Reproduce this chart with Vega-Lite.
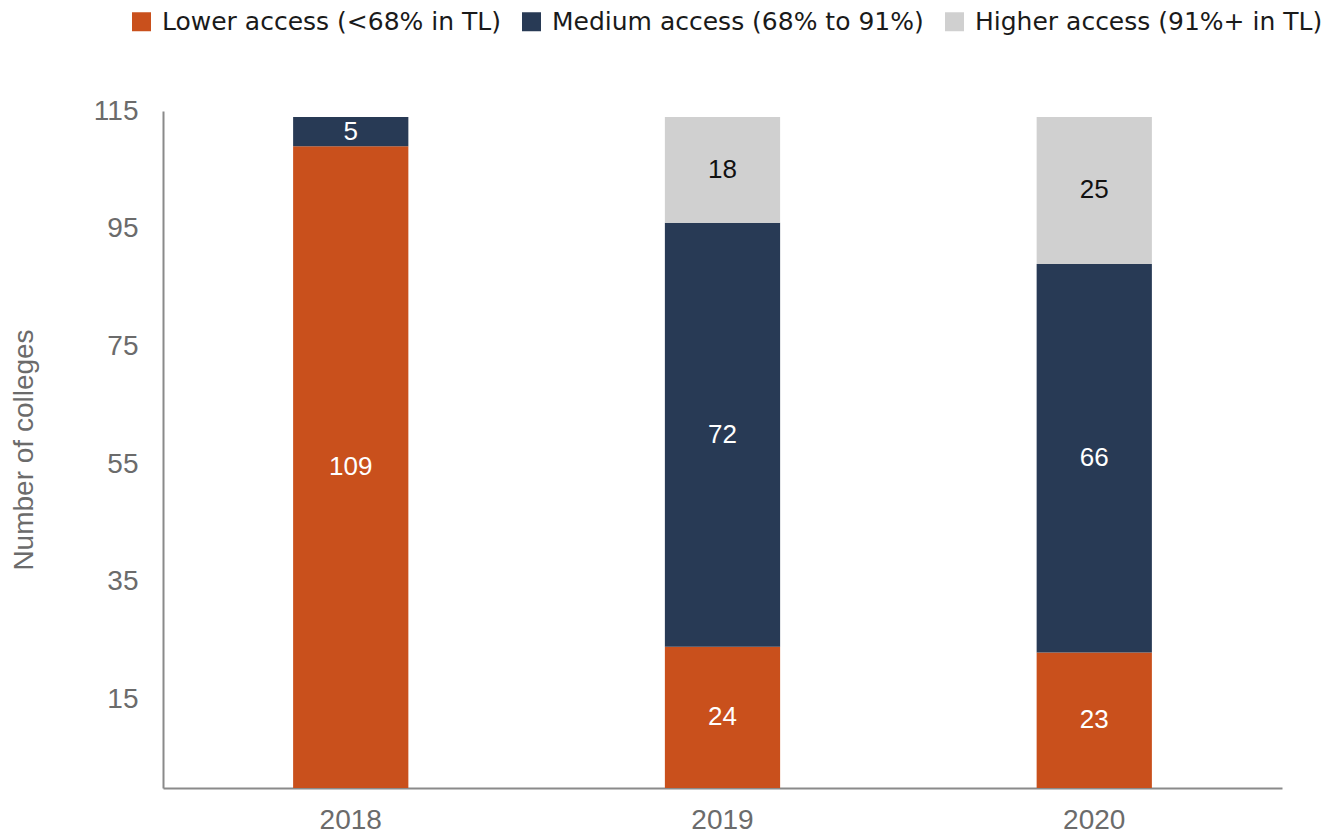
{
  "$schema": "https://vega.github.io/schema/vega-lite/v6.json",
  "width": 1119,
  "height": 677,
  "autosize": {"type": "none"},
  "padding": {"left": 163, "top": 111, "right": 46, "bottom": 50},
  "background": "white",
  "config": {
    "view": {"stroke": null},
    "font": "Liberation Sans"
  },
  "data": {
    "values": [
      {"year": "2018", "access": "Lower access (<68% in TL)", "rank": 1, "colleges": 109},
      {"year": "2018", "access": "Medium access (68% to 91%)", "rank": 2, "colleges": 5},
      {"year": "2019", "access": "Lower access (<68% in TL)", "rank": 1, "colleges": 24},
      {"year": "2019", "access": "Medium access (68% to 91%)", "rank": 2, "colleges": 72},
      {"year": "2019", "access": "Higher access (91%+ in TL)", "rank": 3, "colleges": 18},
      {"year": "2020", "access": "Lower access (<68% in TL)", "rank": 1, "colleges": 23},
      {"year": "2020", "access": "Medium access (68% to 91%)", "rank": 2, "colleges": 66},
      {"year": "2020", "access": "Higher access (91%+ in TL)", "rank": 3, "colleges": 25}
    ]
  },
  "encoding": {
    "x": {
      "field": "year",
      "type": "nominal",
      "scale": {"paddingInner": 0.69, "paddingOuter": 0.35},
      "axis": {
        "title": null,
        "labelAngle": 0,
        "labelFontSize": 28,
        "labelColor": "#6b6b6b",
        "labelPadding": 18,
        "ticks": false,
        "domainColor": "#8a8a8a",
        "domainWidth": 2
      }
    },
    "y": {
      "field": "colleges",
      "type": "quantitative",
      "stack": "zero",
      "scale": {"domain": [0, 115], "nice": false},
      "axis": {
        "title": "Number of colleges",
        "titleFontSize": 28,
        "titleFontWeight": "normal",
        "titleColor": "#6b6b6b",
        "titlePadding": 55,
        "values": [15, 35, 55, 75, 95, 115],
        "labelFontSize": 28,
        "labelColor": "#6b6b6b",
        "labelPadding": 25,
        "ticks": false,
        "grid": false,
        "domainColor": "#8a8a8a",
        "domainWidth": 2
      }
    },
    "order": {"field": "rank", "type": "quantitative", "sort": "ascending"}
  },
  "layer": [
    {
      "mark": {"type": "bar"},
      "encoding": {
        "color": {
          "field": "access",
          "type": "nominal",
          "sort": ["Lower access (<68% in TL)", "Medium access (68% to 91%)", "Higher access (91%+ in TL)"],
          "scale": {
            "domain": ["Lower access (<68% in TL)", "Medium access (68% to 91%)", "Higher access (91%+ in TL)"],
            "range": ["#C9501C", "#283A55", "#D0D0D0"]
          },
          "legend": {
            "title": null,
            "orient": "none",
            "direction": "horizontal",
            "legendX": -34,
            "legendY": -102,
            "symbolType": "square",
            "symbolSize": 361,
            "symbolStrokeWidth": 0,
            "symbolOpacity": 1,
            "labelFontSize": 25,
            "labelFont": "DejaVu Sans",
            "labelColor": "#1a1a1a",
            "labelOffset": 8,
            "columnPadding": 18,
            "labelLimit": 600
          }
        }
      }
    },
    {
      "mark": {"type": "text", "fontSize": 26, "baseline": "middle", "align": "center"},
      "encoding": {
        "y": {"field": "colleges", "type": "quantitative", "stack": "zero", "bandPosition": 0.5},
        "text": {"field": "colleges", "type": "quantitative"},
        "detail": {"field": "access", "type": "nominal"},
        "color": {
          "condition": {"test": "datum.access === 'Higher access (91%+ in TL)'", "value": "#111111"},
          "value": "#ffffff"
        }
      }
    }
  ]
}
